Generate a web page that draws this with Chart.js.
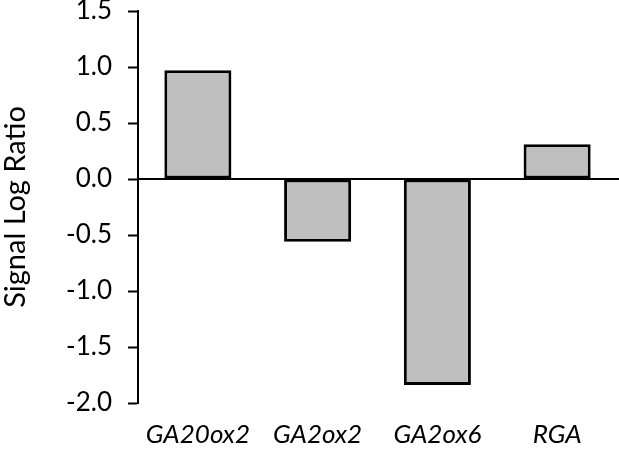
<!DOCTYPE html>
<html>
<head>
<meta charset="utf-8">
<script src="https://cdn.jsdelivr.net/npm/chart.js@4.4.0/dist/chart.umd.min.js"></script>
<style>
  html, body { margin: 0; padding: 0; background: #fff; }
  #wrap { width: 619px; height: 452px; }
</style>
</head>
<body>
<div id="wrap"><canvas id="chart"></canvas></div>
<script>
// 基因名稱與數值
const genes = ['GA20ox2', 'GA2ox2', 'GA2ox6', 'RGA'];
const logRatios = [0.97, -0.56, -1.84, 0.31];
const yTitle = 'Signal Log Ratio';

const font = 'Lato';

// 在長條之上畫出 0 的水平線
const zeroLine = {
    id: 'zeroLine',
    afterDatasetsDraw(chart) {
        const c = chart.ctx;
        const y = chart.scales.y.getPixelForValue(0);
        c.save();
        c.strokeStyle = '#000';
        c.lineWidth = 2;
        c.beginPath();
        c.moveTo(chart.chartArea.left, y);
        c.lineTo(chart.width, y);
        c.stroke();
        c.restore();
    }
};

const ctx = document.getElementById('chart').getContext('2d');
const chart = new Chart(ctx, {
    type: 'bar',
    data: {
        labels: genes,
        datasets: [{
            data: logRatios,
            backgroundColor: '#bfbfbf',
            borderColor: '#000',
            borderWidth: 3,
            borderSkipped: false,
            barPercentage: 0.56,
            categoryPercentage: 1
        }]
    },
    plugins: [zeroLine],
    options: {
        responsive: true,
        maintainAspectRatio: false,
        animation: false,
        layout: { padding: { top: 0, right: 2, left: 0, bottom: 0 } },
        plugins: { legend: { display: false }, tooltip: { enabled: false } },
        scales: {
            x: {
                grid: { display: false, drawTicks: false },
                border: { display: false },
                afterFit: s => { s.height = 49; s.paddingLeft = 0; s.paddingRight = 0; },
                ticks: {
                    color: '#000',
                    padding: 16,
                    font: { family: font, size: 26, style: 'italic' }
                }
            },
            y: {
                min: -2,
                max: 1.5,
                afterFit: s => { s.width = 138; s.paddingTop = 11; s.paddingBottom = 0; },
                border: { display: true, color: '#000', width: 2 },
                grid: {
                    drawOnChartArea: false,
                    drawTicks: true,
                    tickLength: 10,
                    tickWidth: 2,
                    tickColor: '#000'
                },
                ticks: {
                    stepSize: 0.5,
                    color: '#000',
                    padding: 16,
                    font: { family: font, size: 26 },
                    callback: v => v.toFixed(1)
                },
                title: {
                    display: true,
                    text: yTitle,
                    color: '#000',
                    padding: { top: -2, bottom: 0 },
                    font: { family: font, size: 29 }
                }
            }
        }
    }
});
</script>
</body>
</html>
